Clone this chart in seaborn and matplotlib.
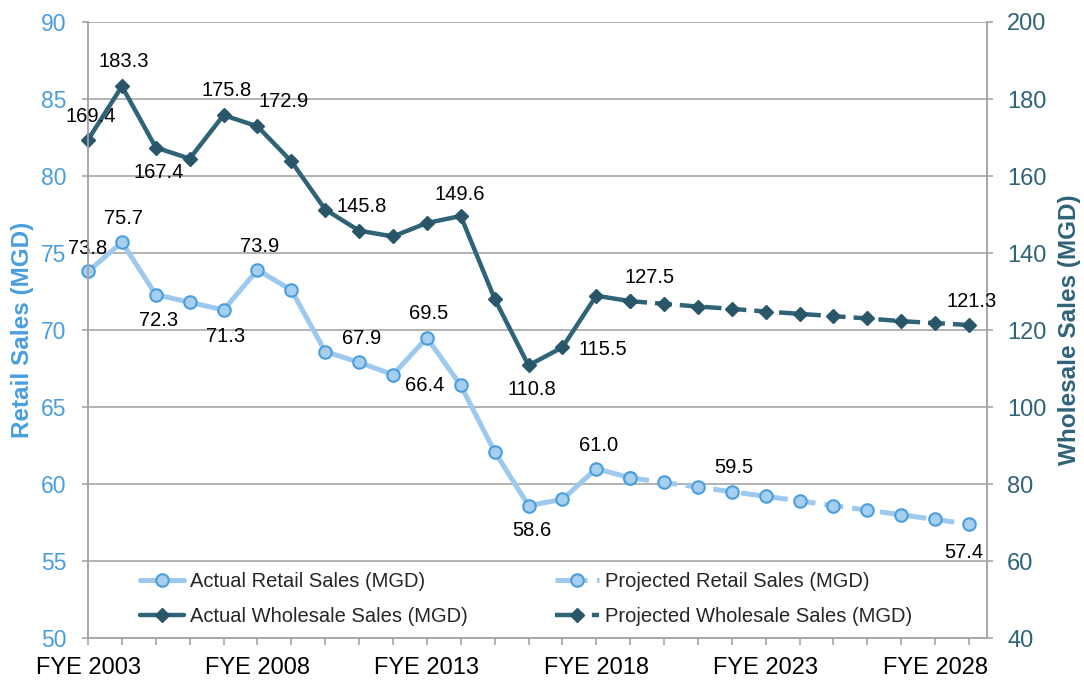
import matplotlib
matplotlib.use("Agg")
import matplotlib.pyplot as plt
from matplotlib.lines import Line2D
import seaborn as sns

sns.set_style("white")
plt.rcParams['font.family'] = ['Liberation Sans', 'DejaVu Sans']

# values
years_actual = list(range(2003, 2020))
years_proj = list(range(2019, 2030))

retail_actual = [73.8, 75.7, 72.3, 71.8, 71.3, 73.9, 72.6, 68.6, 67.9, 67.1,
                 69.5, 66.4, 62.1, 58.6, 59.0, 61.0, 60.4]
retail_proj = [60.4, 60.1, 59.8, 59.5, 59.2, 58.9, 58.6, 58.3, 58.0, 57.7, 57.4]

wholesale_actual = [169.4, 183.3, 167.4, 164.5, 175.8, 172.9, 163.8, 151.3, 145.8,
                    144.3, 147.8, 149.6, 128.1, 110.8, 115.5, 128.9, 127.5]
wholesale_proj = [127.5, 126.8, 126.1, 125.5, 124.8, 124.2, 123.6, 123.0, 122.3,
                  121.8, 121.3]

tick_years = [2003, 2008, 2013, 2018, 2023, 2028]

# labelled points: (year, value, dx px, dy px)
retail_labels = [(2003, 73.8, 0, 23), (2004, 75.7, 2, 24), (2005, 72.3, 3, -26),
                 (2007, 71.3, 2, -27), (2008, 73.9, 2, 23), (2011, 67.9, 3, 24),
                 (2013, 69.5, 2, 24), (2014, 66.4, -36, 0), (2016, 58.6, 3, -25),
                 (2018, 61.0, 2, 23), (2022, 59.5, 2, 24), (2029, 57.4, -5, -28)]
wholesale_labels = [(2003, 169.4, 3, 23), (2004, 183.3, 2, 25), (2005, 167.4, 3, -25),
                    (2007, 175.8, 3, 25), (2008, 172.9, 26, 25), (2011, 145.8, 3, 24),
                    (2014, 149.6, -1, 22), (2016, 110.8, 3, -24), (2017, 115.5, 40, -2),
                    (2019, 127.5, 19, 24), (2029, 121.3, 3, 24)]

retail_col = "#9DC9EE"
retail_face = "#A6CEEF"
retail_dark = "#4A9EDD"
whole_col = "#2F6378"
whole_dark = "#2A5669"
grid_col = "#A6A6A6"
dash = (0, (3.8, 1.8))
legend_dash = (0, (6.4, 1.9))

fig, ax = plt.subplots(figsize=(10.84, 6.81), dpi=100)
fig.subplots_adjust(left=0.0812, right=0.9105, top=0.9677, bottom=0.0631)
ax2 = ax.twinx()

retail_kw = dict(color=retail_col, lw=3.6, marker="o", markersize=9,
                 markerfacecolor=retail_face, markeredgecolor=retail_dark,
                 markeredgewidth=1.5, clip_on=False)
whole_kw = dict(color=whole_col, lw=3.2, marker="D", markersize=7.5,
                markerfacecolor=whole_dark, markeredgecolor=whole_dark,
                markeredgewidth=1, clip_on=False)

sns.lineplot(x=years_actual, y=retail_actual, ax=ax, **retail_kw)
sns.lineplot(x=years_proj, y=retail_proj, ax=ax, linestyle=dash, **retail_kw)
sns.lineplot(x=years_actual, y=wholesale_actual, ax=ax2, **whole_kw)
sns.lineplot(x=years_proj, y=wholesale_proj, ax=ax2, linestyle=dash, **whole_kw)

for yr, v, dx, dy in retail_labels:
    ax.annotate(f"{v:.1f}", (yr, v), xytext=(dx, dy), textcoords="offset pixels",
                ha="center", va="center", fontsize=14.5, color="black")
for yr, v, dx, dy in wholesale_labels:
    ax2.annotate(f"{v:.1f}", (yr, v), xytext=(dx, dy), textcoords="offset pixels",
                 ha="center", va="center", fontsize=14.5, color="black")

# axes
ax.set_xlim(2003, 2029.53)
ax.set_ylim(50, 90)
ax2.set_ylim(40, 200)
ax.set_yticks(range(50, 91, 5))
ax2.set_yticks(range(40, 201, 20))
ax.set_xticks(range(2003, 2030))
ax.set_xticklabels([f"FYE {y}" if y in tick_years else "" for y in range(2003, 2030)])

ax.grid(axis="y", color=grid_col, lw=1.2)
ax.set_axisbelow(True)
for a in (ax, ax2):
    for s in a.spines.values():
        s.set_color(grid_col)
        s.set_linewidth(1.2)
    a.spines["top"].set_visible(False)

ax.tick_params(axis="x", direction="out", length=5, width=1.2, color=grid_col,
               pad=9, labelsize=17, labelcolor="black", bottom=True)
ax.tick_params(axis="y", direction="out", length=4.5, width=1.2, color=grid_col,
               pad=11, labelsize=16.5, labelcolor=retail_dark, left=True)
ax2.tick_params(axis="y", direction="out", length=4.5, width=1.2, color=grid_col,
                pad=10, labelsize=17, labelcolor=whole_col, right=True)

ax.set_ylabel("Retail Sales (MGD)", fontsize=17.5, fontweight="bold",
              color=retail_dark, labelpad=5)
ax2.set_ylabel("Wholesale Sales (MGD)", fontsize=17.5, fontweight="bold",
               color=whole_col, labelpad=8)

# legend in 2x2 layout
handles = [
    Line2D([], [], **retail_kw),
    Line2D([], [], **whole_kw),
    Line2D([], [], linestyle=legend_dash, **retail_kw),
    Line2D([], [], linestyle=legend_dash, **whole_kw),
]
labels = ["Actual Retail Sales (MGD)", "Actual Wholesale Sales (MGD)",
          "Projected Retail Sales (MGD)", "Projected Wholesale Sales (MGD)"]
ax2.legend(handles, labels, ncol=2, frameon=False, fontsize=14.5,
           loc="upper left", bbox_to_anchor=(140 / 1084, 1 - 572 / 681),
           bbox_transform=fig.transFigure, borderpad=0, borderaxespad=0,
           handlelength=2.2, handletextpad=0.3, columnspacing=4.3,
           labelspacing=0.8)

fig.savefig("out.png", dpi=100)
